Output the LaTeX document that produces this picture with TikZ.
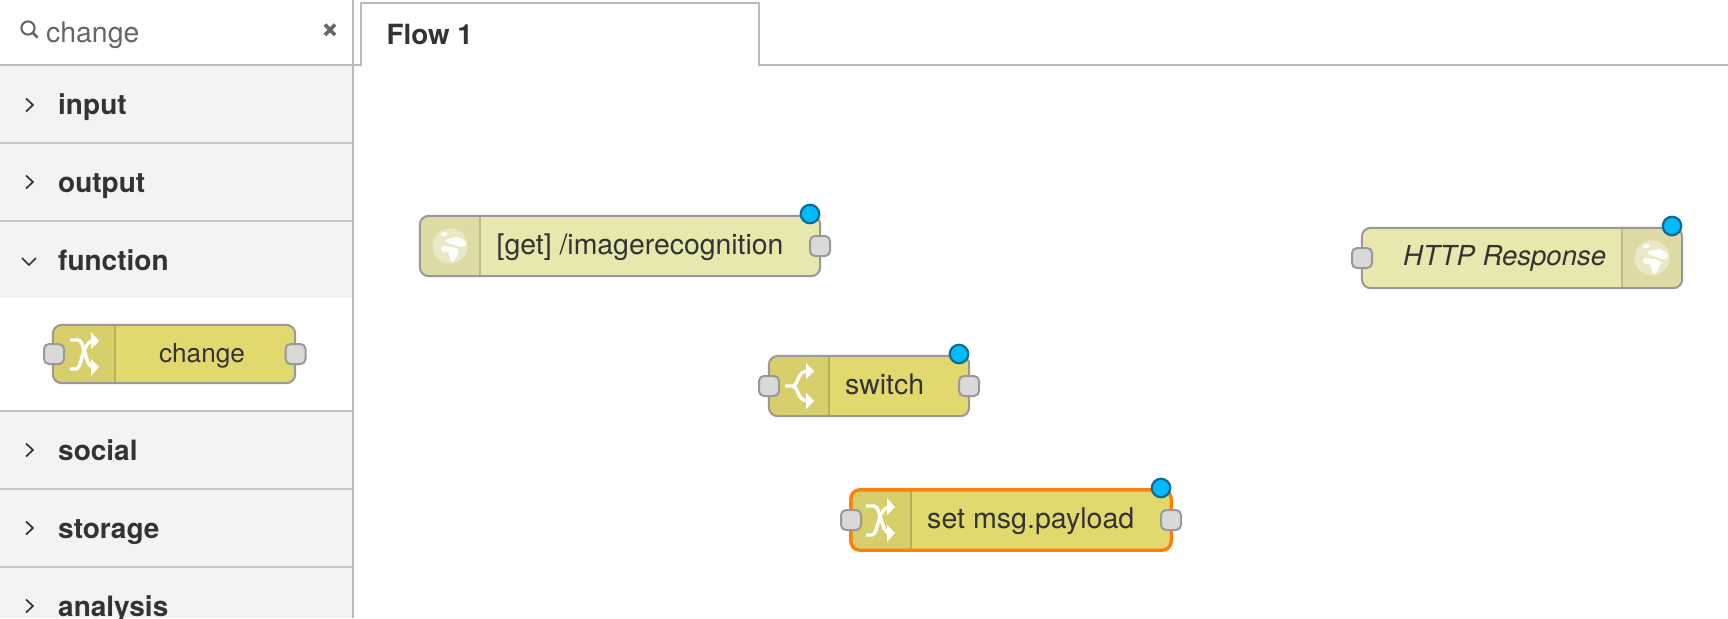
\documentclass[tikz,border=0pt]{standalone}
\usepackage{fontspec}
\setmainfont{TeX Gyre Heros}
\usetikzlibrary{calc}
\definecolor{txt}{HTML}{333333}
\definecolor{grey}{HTML}{BBBBBB}
\definecolor{sep}{HTML}{C4C4C4}
\definecolor{pale}{HTML}{F3F3F3}
\definecolor{nodeborder}{HTML}{999999}
\definecolor{portfill}{HTML}{D9D9D9}
\definecolor{changefill}{HTML}{E2D96E}
\definecolor{changeicon}{HTML}{D6CF6B}
\definecolor{httpfill}{HTML}{E7E7AE}
\definecolor{httpicon}{HTML}{DEDCA4}
\definecolor{selorange}{HTML}{FF7F0E}
\definecolor{statusblue}{HTML}{00BCFF}
\definecolor{statusring}{HTML}{116A96}
\tikzset{
  x=1pt,y=-1pt,
  cat/.style={font=\fontsize{28}{28}\bfseries\selectfont,text=txt,anchor=base west,inner sep=0},
  chev/.style={draw=txt,line width=1.7pt},
  label/.style={font=\fontsize{28.4}{28}\selectfont,text=txt,inner sep=0},
  port/.style={draw=nodeborder,fill=portfill,line width=2pt,rounded corners=5pt,minimum width=20pt,minimum height=20pt,inner sep=0},
  status/.style={circle,draw=statusring,fill=statusblue,line width=2.2pt,minimum size=18.5pt,inner sep=0},
  flowline/.style={draw=grey,line width=1.5pt},
  iconline/.style={draw=white,line width=3.4pt,line join=round},
}
% body: name, x1, y1, x2, y2, divider x, body fill, icon fill, icon on left(1)/right(0)
\newcommand{\flowbody}[9]{%
  \node[minimum width=#4pt-#2pt,minimum height=#5pt-#3pt,inner sep=0,rounded corners=9pt,fill=#7] (#1) at ({(#2+#4)/2},{(#3+#5)/2}) {};
  \begin{scope}
    \clip[rounded corners=9pt] (#2,#3) rectangle (#4,#5);
    \ifnum#9=1
      \fill[#8] (#2,#3) rectangle (#6,#5);
    \else
      \fill[#8] (#6,#3) rectangle (#4,#5);
    \fi
    \draw[#8!85!black,line width=1.2pt] (#6,#3) -- (#6,#5);
  \end{scope}
}
\newcommand{\flowborder}[3]{%
  \draw[#2,line width=#3,rounded corners=9pt] (#1.north west) rectangle (#1.south east);
}
\newcommand{\shuffleicon}[2]{%
  \begin{scope}[shift={(#1,#2)}]
    \draw[iconline] (-15,-14) -- (-7,-14) .. controls (-3,-14) and (-2,-6) .. (0,-1) .. controls (2,5) and (3,12) .. (8,13);
    \draw[iconline] (-15,15) -- (-9,15) .. controls (-5,15) and (-4,5) .. (-2,0) .. controls (0,-6) and (2,-12) .. (8,-13);
    \fill[white] (6,-22) -- (14,-13) -- (6,-5) -- cycle;
    \fill[white] (6,5) -- (14,13) -- (6,22) -- cycle;
  \end{scope}
}
\newcommand{\switchicon}[2]{%
  \begin{scope}[shift={(#1,#2)}]
    \draw[iconline] (-15,0) -- (-7,0) .. controls (-1,-2) and (-3,-15) .. (8,-15);
    \draw[iconline] (-7,0) .. controls (-1,2) and (-3,15) .. (8,15);
    \fill[white] (6,-23) -- (14,-15) -- (6,-7) -- cycle;
    \fill[white] (6,7) -- (14,15) -- (6,23) -- cycle;
  \end{scope}
}
\newcommand{\globeicon}[2]{%
  \begin{scope}[shift={(#1,#2)}]
    \fill[white,opacity=.38] (0,0) circle (17.5);
    \fill[white,opacity=.95] (-5,-5) .. controls (-2,-8) and (0,-8) .. (3,-8) .. controls (7,-11) and (12,-7) .. (16,-4) .. controls (17,0) and (14,1) .. (10,1) .. controls (6,-1) and (0,-1) .. (-5,-5) -- cycle;
    \fill[white,opacity=.95] (-9,1) .. controls (-6,-1) and (-2,1) .. (2,1) .. controls (5,2) and (8,2) .. (9,4) .. controls (8,8) and (6,13) .. (3,16) .. controls (0,17) and (0,10) .. (-2,6) .. controls (-7,7) and (-10,5) .. (-9,1) -- cycle;
    \fill[white,opacity=.8] (-10,-12) .. controls (-6,-15) and (-2,-15) .. (-2,-12) .. controls (-4,-9) and (-8,-9) .. (-10,-12) -- cycle;
  \end{scope}
}
\begin{document}
\begin{tikzpicture}
\useasboundingbox (0,0) rectangle (1728,618);
\fill[white] (0,0) rectangle (1728,618);
% palette bands
\fill[pale] (0,65) rectangle (353,298);
\fill[white] (0,298) rectangle (353,411);
\fill[pale] (0,411) rectangle (353,618);
\foreach \yy in {143,221,411,489,567} \draw[sep,line width=1.5pt] (0,\yy) -- (353,\yy);
% frame
\draw[flowline] (353,0) -- (353,618);
\draw[flowline] (0,65) -- (361,65) -- (361,3) -- (759,3) -- (759,65) -- (1728,65);
% search
\draw[draw=txt!75,line width=2pt] (28,28) circle (6.6);
\draw[draw=txt!75,line width=2.8pt] (33,33) -- (37.5,37.5);
\node[font=\fontsize{28.4}{28}\selectfont,text=txt!75,anchor=base west,inner sep=0] (search) at (46,42) {change};
\draw[draw=txt!75,line width=3.6pt] (325,24.5) -- (335,35);
\draw[draw=txt!75,line width=3.6pt] (335,24.5) -- (325,35);
\node[font=\fontsize{27.8}{28}\bfseries\selectfont,text=txt,anchor=base west,inner sep=0] (tab) at (386.5,45) {Flow 1};
% categories
\node[cat] (input) at (58,114) {input};
\node[cat] (output) at (58,192) {output};
\node[cat] (function) at (58,270) {function};
\node[cat] (social) at (58,460) {social};
\node[cat] (storage) at (58,538) {storage};
\node[cat] (analysis) at (58,616) {analysis};
\foreach \yy in {105,182,450,528,606} \draw[chev] (26,\yy-6.5) -- (33,\yy) -- (26,\yy+6.5);
\draw[chev] (22,258) -- (29,265) -- (36,258);
% palette change node
\flowbody{pal}{53}{325}{295}{383}{115}{changefill}{changeicon}{1}
\shuffleicon{85}{354}
\flowborder{pal}{nodeborder}{2pt}
\node[label,font=\fontsize{26.2}{26}\selectfont,anchor=base] (pallabel) at (202,362) {change};
\node[port] (palin) at (54,354) {};
\node[port] (palout) at (295.5,354) {};
% get node
\flowbody{get}{420}{216}{820}{276}{480}{httpfill}{httpicon}{1}
\globeicon{450}{246}
\flowborder{get}{nodeborder}{2pt}
\node[label,anchor=base west] (getlabel) at (496.5,254) {[get] /imagerecognition};
\node[port] (getout) at (820,246) {};
\node[status] (getst) at (810,214) {};
% switch node
\flowbody{sw}{769}{356}{969}{416}{829}{changefill}{changeicon}{1}
\switchicon{800}{386}
\flowborder{sw}{nodeborder}{2pt}
\node[label,anchor=base west] (swlabel) at (845,394) {switch};
\node[port] (swin) at (769,386) {};
\node[port] (swout) at (969,386) {};
\node[status] (swst) at (959,354) {};
% set node
\flowbody{set}{851}{490}{1171}{550}{911}{changefill}{changeicon}{1}
\shuffleicon{881}{520}
\flowborder{set}{selorange}{3.4pt}
\node[label,anchor=base west,font=\fontsize{28.6}{28}\selectfont] (setlabel) at (927,528.5) {set msg.payload};
\node[port] (setin) at (851,520) {};
\node[port] (setout) at (1171,520) {};
\node[status] (setst) at (1161,488) {};
% http response
\flowbody{resp}{1362}{228}{1682}{288}{1622}{httpfill}{httpicon}{0}
\globeicon{1652}{258}
\flowborder{resp}{nodeborder}{2pt}
\node[label,anchor=base west,font=\fontsize{27.5}{28}\itshape\selectfont] (resplabel) at (1403,265) {HTTP Response};
\node[port] (respin) at (1362,258) {};
\node[status] (respst) at (1672,226) {};
\end{tikzpicture}
\end{document}
